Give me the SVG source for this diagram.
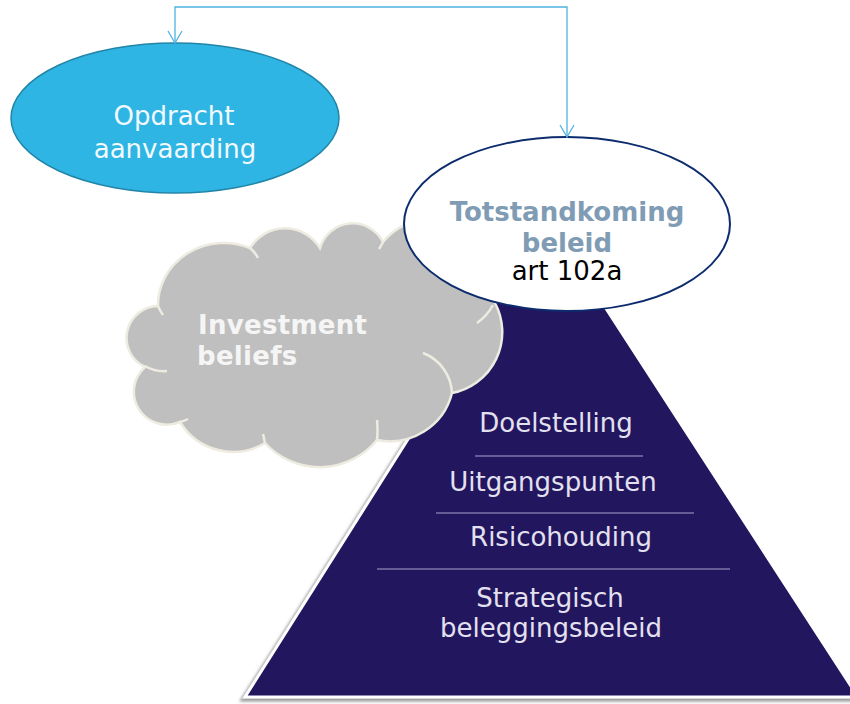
<svg xmlns="http://www.w3.org/2000/svg" width="850" height="704" viewBox="0 0 850 704">
  <style>
    .txt { font-family: "DejaVu Sans", "Liberation Sans", sans-serif; font-size: 26px; text-anchor: middle; }
    .bold { font-weight: bold; }
    .pyr-text { fill: #E4E1EF; }
    .divider { stroke: #A7A1CE; stroke-width: 1.2; }
    .conn { fill: none; stroke: #4FB3E0; stroke-width: 1.3; }
  </style>
  <defs>
    <marker id="vhead" markerUnits="userSpaceOnUse" markerWidth="16" markerHeight="16" refX="12" refY="7" orient="auto-start-reverse" overflow="visible">
      <path d="M0,0 L12,7 L0,14" fill="none" stroke="#4FB3E0" stroke-width="1.3"/>
    </marker>
    <filter id="shadow" x="-10%" y="-10%" width="120%" height="120%">
      <feDropShadow dx="-3" dy="3" stdDeviation="1.5" flood-color="#808080" flood-opacity="0.8"/>
    </filter>
  </defs>

  <rect width="850" height="704" fill="#FFFFFF"/>

  <g id="pyramid">
    <polygon points="515,270 581,270 858,697 245,697" fill="#21145F" stroke="#FFFFFF" stroke-width="3" filter="url(#shadow)"/>
    <line class="divider" x1="475" y1="456" x2="643" y2="456"/>
    <line class="divider" x1="436" y1="513" x2="694" y2="513"/>
    <line class="divider" x1="377" y1="569" x2="730" y2="569"/>
    <text class="txt pyr-text" x="556" y="432">Doelstelling</text>
    <text class="txt pyr-text" x="553" y="491">Uitgangspunten</text>
    <text class="txt pyr-text" x="561" y="546">Risicohouding</text>
    <text class="txt pyr-text" x="550" y="607">Strategisch</text>
    <text class="txt pyr-text" x="551" y="637">beleggingsbeleid</text>
  </g>

  <g id="investment-beliefs">
    <path d="M145,367 A32 32 0 0 1 158,306 A66 62 0 0 1 250,248 A41 41 0 0 1 320,248 A34 34 0 0 1 383,242 A65 65 0 0 1 495,303 A62 62 0 0 1 452,393 A64 64 0 0 1 377,440 A74 74 0 0 1 265,443 A62 62 0 0 1 180,422 A33 33 0 0 1 145,367 Z" fill="#BFBFBF" stroke="#EEECE1" stroke-width="2.5"/>
    <path d="M145,366 Q155,372 167,371 M158,306 Q160,311 163,315 M250,248 Q255,252 258,258 M383,242 Q381,246 379,249 M477,323 Q487,316 493,305 M423,353 A45 45 0 0 1 452,393 M377,440 Q378,430 377,420 M265,443 Q264,438 263,434 M180,422 Q184,421 188,419" fill="none" stroke="#EEECE1" stroke-width="2.5"/>
    <text class="txt bold" x="198" y="334" fill="#F5F5F5" style="text-anchor:start" letter-spacing="0.3">Investment</text>
    <text class="txt bold" x="197" y="365" fill="#F5F5F5" style="text-anchor:start" letter-spacing="0.3">beliefs</text>
  </g>

  <g id="opdracht-aanvaarding">
    <ellipse cx="175" cy="118" rx="164" ry="75" fill="#2FB5E4" stroke="#2185A8" stroke-width="1.5"/>
    <text class="txt" x="174" y="125" fill="#F2FAFF">Opdracht</text>
    <text class="txt" x="175" y="158" fill="#F2FAFF">aanvaarding</text>
  </g>

  <g id="totstandkoming-beleid">
    <ellipse cx="567" cy="224" rx="163" ry="87" fill="#FFFFFF" stroke="#0C2C6E" stroke-width="2"/>
    <text class="txt bold" x="567" y="221" fill="#7F9CB4">Totstandkoming</text>
    <text class="txt bold" x="567" y="252" fill="#7F9CB4">beleid</text>
    <text class="txt" x="567" y="280" fill="#000000">art 102a</text>
  </g>

  <g id="connectors">
    <path class="conn" d="M567,137 L567,7 L175,7 L175,43" marker-start="url(#vhead)" marker-end="url(#vhead)"/>
  </g>
</svg>
